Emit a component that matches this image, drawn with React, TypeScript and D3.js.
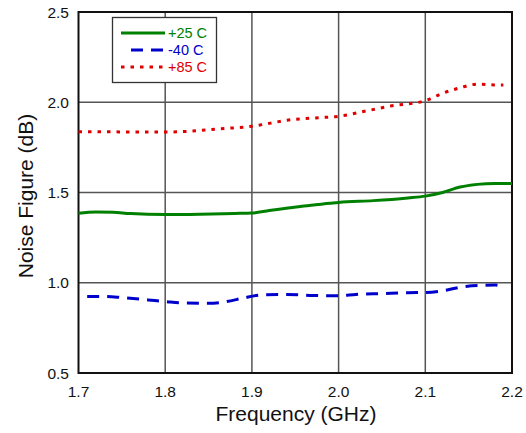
import React, { useEffect, useRef } from 'react';
import * as d3 from 'd3';

const freq25 = [1.70, 1.72, 1.74, 1.76, 1.80, 1.84, 1.88, 1.90, 1.92, 1.96, 1.99, 2.00, 2.04, 2.08, 2.10, 2.12, 2.14, 2.16, 2.18, 2.20];
const nf25 = [1.385, 1.392, 1.39, 1.383, 1.378, 1.38, 1.384, 1.386, 1.40, 1.425, 1.44, 1.445, 1.455, 1.47, 1.48, 1.50, 1.53, 1.545, 1.55, 1.55];

const freqM40 = [1.71, 1.73, 1.75, 1.78, 1.80, 1.82, 1.85, 1.87, 1.89, 1.91, 1.94, 1.97, 2.00, 2.02, 2.05, 2.08, 2.10, 2.12, 2.14, 2.16, 2.18, 2.19];
const nfM40 = [0.924, 0.924, 0.918, 0.905, 0.896, 0.888, 0.886, 0.895, 0.915, 0.932, 0.935, 0.93, 0.928, 0.935, 0.94, 0.945, 0.946, 0.955, 0.975, 0.985, 0.987, 0.978];

const freq85 = [1.70, 1.74, 1.78, 1.80, 1.83, 1.86, 1.89, 1.90, 1.92, 1.94, 1.98, 2.00, 2.03, 2.06, 2.10, 2.12, 2.14, 2.16, 2.18, 2.19];
const nf85 = [1.837, 1.836, 1.835, 1.835, 1.84, 1.852, 1.862, 1.867, 1.883, 1.90, 1.915, 1.922, 1.95, 1.979, 2.009, 2.05, 2.08, 2.10, 2.096, 2.096];

const xTicks = [1.7, 1.8, 1.9, 2.0, 2.1, 2.2];
const yTicks = [0.5, 1.0, 1.5, 2.0, 2.5];

const legendLabels = ['+25 C', '-40 C', '+85 C'];
const seriesColors = ['#008000', '#0000cc', '#e00000'];

const App: React.FC = () => {
  const svgRef = useRef<SVGSVGElement>(null);

  useEffect(() => {
    if (!svgRef.current) return;
    document.body.style.margin = '0';
    const svg = d3.select(svgRef.current);
    svg.selectAll('*').remove();

    const left = 78.5, right = 512, top = 12, bottom = 373;
    const x = d3.scaleLinear().domain([1.7, 2.2]).range([left, right]);
    const y = d3.scaleLinear().domain([0.5, 2.5]).range([bottom, top]);
    const font = 'Liberation Sans, Arial, sans-serif';

    svg.append('rect').attr('width', 526).attr('height', 433).attr('fill', '#fff');

    // grid
    const grid = svg.append('g').attr('stroke', '#555').attr('stroke-width', 1.5);
    xTicks.slice(1, -1).forEach(t => {
      grid.append('line').attr('x1', x(t)).attr('x2', x(t)).attr('y1', top).attr('y2', bottom);
    });
    yTicks.slice(1, -1).forEach(t => {
      grid.append('line').attr('x1', left).attr('x2', right).attr('y1', y(t)).attr('y2', y(t));
    });

    svg.append('rect').attr('x', left).attr('y', top).attr('width', right - left).attr('height', bottom - top)
      .attr('fill', 'none').attr('stroke', '#111').attr('stroke-width', 2);

    // tick labels
    svg.append('g').selectAll('text').data(xTicks).enter().append('text')
      .attr('x', d => x(d)).attr('y', 397).attr('text-anchor', 'middle')
      .attr('font-family', font).attr('font-size', 15.5).attr('fill', '#111')
      .text(d => d.toFixed(1));
    svg.append('g').selectAll('text').data(yTicks).enter().append('text')
      .attr('x', 69).attr('y', d => y(d) + 5.5).attr('text-anchor', 'end')
      .attr('font-family', font).attr('font-size', 15.5).attr('fill', '#111')
      .text(d => d.toFixed(1));

    svg.append('text').attr('x', 296).attr('y', 421).attr('text-anchor', 'middle')
      .attr('font-family', font).attr('font-size', 21).attr('fill', '#111').text('Frequency (GHz)');
    svg.append('text').attr('transform', `translate(33,196) rotate(-90)`)
      .attr('text-anchor', 'middle').attr('font-family', font).attr('font-size', 21).attr('fill', '#111')
      .text('Noise Figure (dB)');

    const line = d3.line<[number, number]>().x(d => x(d[0])).y(d => y(d[1])).curve(d3.curveMonotoneX);
    const series: { f: number[]; v: number[]; dash: string | null; w: number }[] = [
      { f: freq25, v: nf25, dash: null, w: 3 },
      { f: freqM40, v: nfM40, dash: '12,8', w: 3 },
      { f: freq85, v: nf85, dash: '3.5,6', w: 3 },
    ];
    series.forEach((s, i) => {
      svg.append('path')
        .datum(s.f.map((f, j) => [f, s.v[j]] as [number, number]))
        .attr('fill', 'none').attr('stroke', seriesColors[i]).attr('stroke-width', s.w)
        .attr('stroke-dasharray', s.dash).attr('d', line);
    });

    // legend
    const lg = svg.append('g');
    lg.append('rect').attr('x', 112.5).attr('y', 17.5).attr('width', 104).attr('height', 65)
      .attr('fill', '#fff').attr('stroke', '#333').attr('stroke-width', 1.3);
    series.forEach((s, i) => {
      const ly = 33 + i * 17;
      lg.append('line').attr('x1', i === 1 ? 131 : 121).attr('x2', 165).attr('y1', ly).attr('y2', ly)
        .attr('stroke', seriesColors[i]).attr('stroke-width', s.w).attr('stroke-dasharray', s.dash);
      lg.append('text').attr('x', 168).attr('y', ly + 5).attr('font-family', font).attr('font-size', 14.5)
        .attr('fill', seriesColors[i]).text(legendLabels[i]);
    });
  }, []);

  return <svg ref={svgRef} width={526} height={433} style={{ display: 'block' }} />;
};

export default App;
